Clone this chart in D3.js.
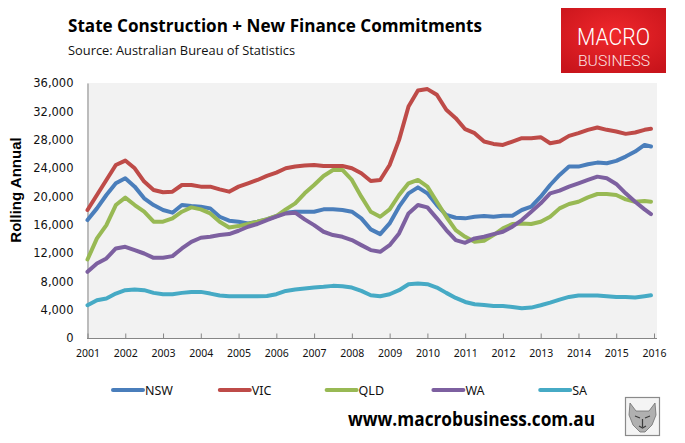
<!DOCTYPE html>
<html>
<head>
<meta charset="utf-8">
<script src="https://cdn.jsdelivr.net/npm/d3@7/dist/d3.min.js"></script>
<style>
  body { margin: 0; background: #fff; }
  svg { display: block; }
</style>
</head>
<body>
<svg id="svg"></svg>
<script>
// quarterly points (decimal years)
var dates = [
  2001.00, 2001.25, 2001.50, 2001.75, 2002.00, 2002.25, 2002.50, 2002.75,
  2003.00, 2003.25, 2003.50, 2003.75, 2004.00, 2004.25, 2004.50, 2004.75,
  2005.00, 2005.25, 2005.50, 2005.75, 2006.00, 2006.25, 2006.50, 2006.75,
  2007.00, 2007.25, 2007.50, 2007.75, 2008.00, 2008.25, 2008.50, 2008.75,
  2009.00, 2009.25, 2009.50, 2009.75, 2010.00, 2010.25, 2010.50, 2010.75,
  2011.00, 2011.25, 2011.50, 2011.75, 2012.00, 2012.25, 2012.50, 2012.75,
  2013.00, 2013.25, 2013.50, 2013.75, 2014.00, 2014.25, 2014.50, 2014.75,
  2015.00, 2015.25, 2015.50, 2015.75, 2015.92
];

var nsw = [
  16650, 18300, 20190, 21840, 22550, 21370, 19720, 18770,
  18070, 17690, 18770, 18630, 18540, 18300, 17120, 16560,
  16420, 16180, 16420, 16750, 17220, 17690, 17830, 17830,
  17830, 18160, 18160, 18070, 17830, 16890, 15330, 14670,
  16180, 18540, 20420, 21270, 20420, 18770, 17360, 16980,
  16890, 17120, 17220, 17120, 17260, 17260, 18070, 18540,
  19950, 21600, 23020, 24200, 24200, 24530, 24760, 24670,
  25000, 25610, 26320, 27260, 27030
];
var vic = [
  18070, 20190, 22310, 24430, 25050, 23960, 22080, 20900,
  20570, 20660, 21600, 21600, 21370, 21370, 20990, 20660,
  21370, 21840, 22310, 22880, 23350, 23960, 24200, 24340,
  24430, 24290, 24290, 24290, 23960, 23250, 22170, 22310,
  24430, 27970, 32690, 34950, 35140, 34340, 32220, 31040,
  29480, 28920, 27740, 27400, 27260, 27740, 28210, 28210,
  28350, 27500, 27740, 28540, 28920, 29390, 29720, 29390,
  29150, 28820, 29010, 29390, 29530
];
var qld = [
  11080, 14060, 15940, 18770, 19810, 18770, 17830, 16420,
  16420, 16890, 17830, 18440, 18160, 17590, 16420, 15610,
  15800, 16090, 16420, 16790, 17220, 18160, 19010, 20420,
  21600, 22880, 23720, 23720, 22310, 19950, 17830, 17120,
  18160, 20190, 21840, 22310, 21370, 19240, 17120, 15240,
  14290, 13580, 13730, 14530, 15470, 16090, 16180, 16090,
  16420, 17120, 18300, 18910, 19240, 19860, 20330, 20330,
  20190, 19570, 19240, 19340, 19240
];
var wa = [
  9340, 10520, 11230, 12640, 12880, 12410, 11930, 11320,
  11320, 11560, 12640, 13580, 14150, 14290, 14530, 14670,
  15140, 15710, 16090, 16650, 17120, 17590, 17690, 16750,
  15940, 15000, 14530, 14290, 13820, 13110, 12410, 12170,
  13110, 14760, 17590, 18770, 18440, 16890, 15240, 13820,
  13440, 14060, 14290, 14670, 15000, 15710, 16650, 17830,
  19010, 20420, 20800, 21370, 21840, 22310, 22780, 22550,
  21750, 20420, 19240, 18160, 17500
];
var sa = [
  4620, 5330, 5570, 6270, 6750, 6840, 6750, 6370,
  6180, 6180, 6370, 6510, 6510, 6270, 5990, 5900,
  5900, 5900, 5900, 5940, 6180, 6650, 6840, 6980,
  7120, 7220, 7360, 7310, 7120, 6650, 6040, 5900,
  6180, 6750, 7590, 7690, 7590, 7120, 6370, 5660,
  5090, 4760, 4670, 4530, 4530, 4390, 4200, 4290,
  4620, 5000, 5420, 5800, 5990, 5990, 5990, 5900,
  5800, 5800, 5710, 5900, 6040
];

var seriesNames = ["NSW", "VIC", "QLD", "WA", "SA"];
var seriesValues = [nsw, vic, qld, wa, sa];
var seriesColors = ["#4a7ebb", "#be4b48", "#98b954", "#7d60a0", "#46aac5"];

var yTicks = [0, 4000, 8000, 12000, 16000, 20000, 24000, 28000, 32000, 36000];
var xTicks = [2001, 2002, 2003, 2004, 2005, 2006, 2007, 2008, 2009, 2010, 2011, 2012, 2013, 2014, 2015, 2016];

var width = 685, height = 443;
var plot = { left: 87, right: 657, top: 83, bottom: 338 };

var svg = d3.select("#svg").attr("width", width).attr("height", height);

// title block
svg.append("text")
  .attr("x", 68).attr("y", 32)
  .attr("font-family", "'Open Sans', 'Noto Sans', sans-serif")
  .attr("font-weight", "bold")
  .attr("font-size", 18.5)
  .attr("textLength", 414).attr("lengthAdjust", "spacingAndGlyphs")
  .attr("fill", "#000")
  .text("State Construction + New Finance Commitments");

svg.append("text")
  .attr("x", 68).attr("y", 55)
  .attr("font-family", "'Open Sans', 'Noto Sans', sans-serif")
  .attr("font-size", 13)
  .attr("textLength", 227).attr("lengthAdjust", "spacingAndGlyphs")
  .attr("fill", "#111")
  .text("Source: Australian Bureau of Statistics");

// logo
var defs = svg.append("defs");
var grad = defs.append("radialGradient").attr("id", "logoGrad")
  .attr("cx", "50%").attr("cy", "40%").attr("r", "70%");
grad.append("stop").attr("offset", "0%").attr("stop-color", "#f0282c");
grad.append("stop").attr("offset", "100%").attr("stop-color", "#c8141b");

svg.append("rect")
  .attr("x", 561).attr("y", 8).attr("width", 105).attr("height", 65)
  .attr("fill", "url(#logoGrad)");
svg.append("text")
  .attr("x", 577).attr("y", 45)
  .attr("font-family", "'Roboto', 'Liberation Sans', sans-serif")
  .attr("font-weight", 300)
  .attr("font-size", 24)
  .attr("textLength", 73).attr("lengthAdjust", "spacingAndGlyphs")
  .attr("fill", "#fff")
  .text("MACRO");
svg.append("text")
  .attr("x", 578).attr("y", 65.5)
  .attr("font-family", "'Roboto', 'Liberation Sans', sans-serif")
  .attr("font-weight", 300)
  .attr("font-size", 15)
  .attr("textLength", 72).attr("lengthAdjust", "spacingAndGlyphs")
  .attr("fill", "#fbe3e3")
  .text("BUSINESS");

// scales
var xScale = d3.scaleLinear().domain([2001, 2016]).range([87.5, 654]);
var yScale = d3.scaleLinear().domain([0, 36000]).range([plot.bottom, plot.top]);

// plot background
svg.append("rect")
  .attr("x", plot.left).attr("y", plot.top)
  .attr("width", plot.right - plot.left).attr("height", plot.bottom - plot.top)
  .attr("fill", "#f2f2f2");

// y axis
var yAxis = svg.append("g")
  .attr("transform", `translate(${plot.left + 0.5}, 0)`)
  .call(d3.axisLeft(yScale).tickValues(yTicks).tickSize(0).tickPadding(14)
    .tickFormat(d3.format(",")));
yAxis.select(".domain").attr("stroke", "#868686");
yAxis.selectAll("text")
  .attr("font-family", "'DejaVu Sans', sans-serif")
  .attr("font-size", 11.5)
  .attr("fill", "#111");

// x axis, ticks point inward
var xAxis = svg.append("g")
  .attr("transform", `translate(0, ${plot.bottom + 0.5})`)
  .call(d3.axisBottom(xScale).tickValues(xTicks).tickSizeInner(-5).tickSizeOuter(0)
    .tickPadding(11).tickFormat(d3.format("d")));
xAxis.select(".domain").attr("stroke", "#868686").attr("d", `M${plot.left},0H${plot.right}`);
xAxis.selectAll(".tick line").attr("stroke", "#868686");
xAxis.selectAll("text")
  .attr("font-family", "'Noto Sans', sans-serif")
  .attr("font-size", 10.5)
  .attr("fill", "#111");

// y label
svg.append("text")
  .attr("transform", "translate(21, 190) rotate(-90)")
  .attr("text-anchor", "middle")
  .attr("font-family", "'Liberation Sans', Arial, sans-serif")
  .attr("font-weight", "bold")
  .attr("font-size", 15)
  .attr("fill", "#000")
  .text("Rolling Annual");

// lines
var line = d3.line()
  .x((d, i) => xScale(dates[i]))
  .y(d => yScale(d));

var container = svg.append("g");
seriesValues.forEach((vals, k) => {
  container.append("path")
    .datum(vals)
    .attr("d", line)
    .attr("fill", "none")
    .attr("stroke", seriesColors[k])
    .attr("stroke-width", 4)
    .attr("stroke-linejoin", "round")
    .attr("stroke-linecap", "round");
});

// legend
var legend = svg.append("g");
seriesNames.forEach((name, k) => {
  var lx = 113 + k * 106.8;
  legend.append("line")
    .attr("x1", lx).attr("x2", lx + 30)
    .attr("y1", 390).attr("y2", 390)
    .attr("stroke", seriesColors[k])
    .attr("stroke-width", 4)
    .attr("stroke-linecap", "round");
  legend.append("text")
    .attr("x", lx + 32).attr("y", 394.5)
    .attr("font-family", "'Noto Sans', sans-serif")
    .attr("font-size", 12.5)
    .attr("fill", "#111")
    .text(name);
});

// footer url
svg.append("text")
  .attr("x", 348).attr("y", 426)
  .attr("font-family", "'Open Sans', 'Noto Sans', sans-serif")
  .attr("font-weight", "bold")
  .attr("font-size", 19)
  .attr("textLength", 247).attr("lengthAdjust", "spacingAndGlyphs")
  .attr("fill", "#000")
  .text("www.macrobusiness.com.au");

// little wolf badge
var wolf = svg.append("g").attr("transform", "translate(625, 397)");
wolf.append("rect")
  .attr("x", 0.5).attr("y", 0.5).attr("width", 34).attr("height", 38)
  .attr("fill", "#f4f4f4").attr("stroke", "#8a8a8a").attr("stroke-width", 1.2);
wolf.append("path")
  .attr("d", "M5,6 L11,14 L24,14 L30,6 L31,18 L27,28 L20,35 L15,35 L8,28 L4,18 Z")
  .attr("fill", "#b0b0b0").attr("stroke", "#6e6e6e").attr("stroke-width", 0.8);
wolf.append("path")
  .attr("d", "M10,19 L15,21 M20,21 L25,19 M14,29 L17.5,31 L21,29 M17.5,22 L17.5,30")
  .attr("stroke", "#3c3c3c").attr("stroke-width", 1.2).attr("fill", "none");
</script>
</body>
</html>
